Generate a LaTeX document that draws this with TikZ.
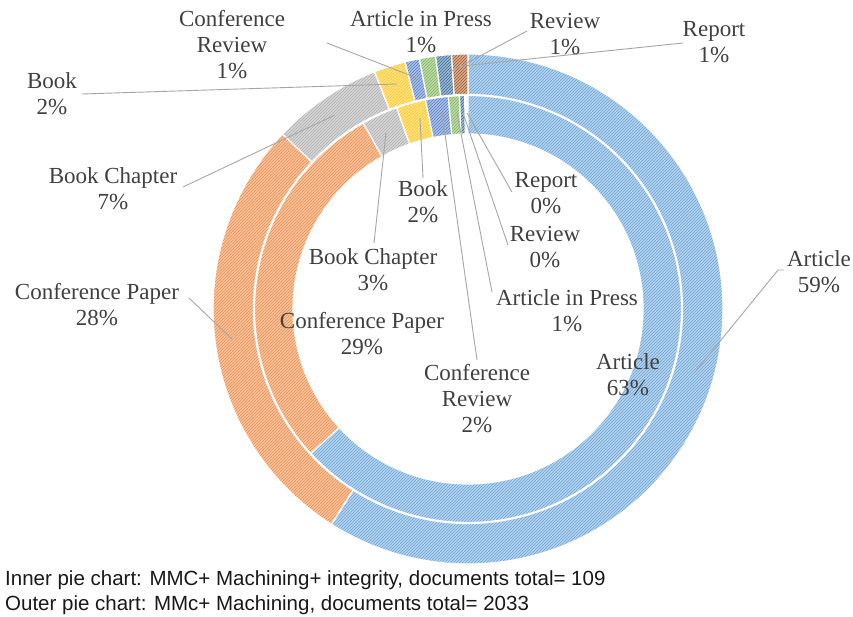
\documentclass[tikz,border=0pt]{standalone}
\usepackage{fontspec}
\setmainfont{Liberation Serif}
\newfontfamily\arialf{Liberation Sans}
\usetikzlibrary{patterns}
\definecolor{cArt}{HTML}{5B9BD5}
\definecolor{cCP}{HTML}{ED7D31}
\definecolor{cBC}{HTML}{A5A5A5}
\definecolor{cBk}{HTML}{FFC000}
\definecolor{cCR}{HTML}{4472C4}
\definecolor{cAiP}{HTML}{70AD47}
\definecolor{cRev}{HTML}{255E91}
\definecolor{cRep}{HTML}{9E480E}
\definecolor{lblc}{HTML}{404040}
\definecolor{leadc}{HTML}{A6A6A6}
\tikzset{
  slicestyle/.style={preaction={fill=#1!45}, pattern=north east lines, pattern color=#1!90, draw=white, line width=1.2pt},
  lbl/.style={text=lblc, align=center, inner sep=0pt, font=\fontsize{23}{26}\selectfont},
  lead/.style={draw=leadc, line width=0.9pt},
  note/.style={anchor=base west, inner sep=0pt, text=black!90, font=\arialf\fontsize{20.5}{25}\selectfont}
}
% r1 r2 a1 a2 colour; angles clockwise from 12 o'clock
\newcommand\annslice[5]{\path[slicestyle=#5] ({90-(#3)}:#1) -- ({90-(#3)}:#2) arc[start angle={90-(#3)}, end angle={90-(#4)}, radius=#2] -- ({90-(#4)}:#1) arc[start angle={90-(#4)}, end angle={90-(#3)}, radius=#1] -- cycle;}
\begin{document}
\begin{tikzpicture}[x=1pt,y=1pt]
\path[use as bounding box, fill=white] (0,0) rectangle (853,-617);
\begin{scope}[shift={(468,-309)}]
% outer ring
\annslice{214.5}{255}{0}{212.4}{cArt}
\annslice{214.5}{255}{212.4}{313.3}{cCP}
\annslice{214.5}{255}{313.3}{338.5}{cBC}
\annslice{214.5}{255}{338.5}{345.7}{cBk}
\annslice{214.5}{255}{345.7}{349}{cCR}
\annslice{214.5}{255}{349}{352.7}{cAiP}
\annslice{214.5}{255}{352.7}{356.3}{cRev}
\annslice{214.5}{255}{356.3}{360}{cRep}
% inner ring
\annslice{175}{213.5}{0}{227.4}{cArt}
\annslice{175}{213.5}{227.4}{330.6}{cCP}
\annslice{175}{213.5}{330.6}{340.5}{cBC}
\annslice{175}{213.5}{340.5}{348.5}{cBk}
\annslice{175}{213.5}{348.5}{354.7}{cCR}
\annslice{175}{213.5}{354.7}{357.7}{cAiP}
\annslice{175}{213.5}{357.7}{359.1}{cRev}
\end{scope}

% slice anchor points
\coordinate (pOCR) at (417,-78);
\coordinate (pOBk) at (397,-84);
\coordinate (pORev) at (448,-73);
\coordinate (pORep) at (462,-66);
\coordinate (pOBC) at (335,-115);
\coordinate (pOCP) at (233,-340);
\coordinate (pOArt) at (695,-372);
\coordinate (pIBk) at (420,-118);
\coordinate (pIBC) at (386,-133);
\coordinate (pICR) at (442,-113);
\coordinate (pIAiP) at (457,-113);
\coordinate (pIRev) at (463,-113);
\coordinate (pIRep) at (467,-113);
% label-side ends
\coordinate (eOCR) at (327,-43);
\coordinate (eOBk) at (82,-94);
\coordinate (eORev) at (527,-31);
\coordinate (eORep) at (683,-43);
\coordinate (eOBC) at (183,-187);
\coordinate (eOCP) at (189,-298);
\coordinate (eOArt) at (784,-270);
\coordinate (kOArt) at (778,-270);
\coordinate (eIBk) at (423,-178);
\coordinate (eIBC) at (374,-243);
\coordinate (eICR) at (477,-360);
\coordinate (eIAiP) at (492,-292);
\coordinate (eIRev) at (508,-245);
\coordinate (eIRep) at (512,-192);

% leader lines
\draw[lead] (eOCR) -- (pOCR);
\draw[lead] (eOBk) -- (pOBk);
\draw[lead] (eORev) -- (pORev);
\draw[lead] (eORep) -- (pORep);
\draw[lead] (eOBC) -- (pOBC);
\draw[lead] (eOCP) -- (pOCP);
\draw[lead] (eOArt) -- (kOArt) -- (pOArt);
\draw[lead] (eIBk) -- (pIBk);
\draw[lead] (eIBC) -- (pIBC);
\draw[lead] (eICR) -- (pICR);
\draw[lead] (eIAiP) -- (pIAiP);
\draw[lead] (eIRev) -- (pIRev);
\draw[lead] (eIRep) -- (pIRep);

% outer labels
\node[lbl] (oCR) at (232,-45) {Conference\\Review\\1\%};
\node[lbl] (oAiP) at (421,-32) {Article in Press\\1\%};
\node[lbl] (oRev) at (565,-34) {Review\\1\%};
\node[lbl] (oRep) at (714,-42) {Report\\1\%};
\node[lbl] (oBk) at (52,-94) {Book\\2\%};
\node[lbl] (oBC) at (113,-189) {Book Chapter\\7\%};
\node[lbl] (oCP) at (97,-305) {Conference Paper\\28\%};
\node[lbl] (oArt) at (819,-272) {Article\\59\%};
% inner labels
\node[lbl] (iRep) at (546,-193) {Report\\0\%};
\node[lbl] (iRev) at (545,-247) {Review\\0\%};
\node[lbl] (iBk) at (423,-202) {Book\\2\%};
\node[lbl] (iBC) at (373,-270) {Book Chapter\\3\%};
\node[lbl] (iAiP) at (567,-311) {Article in Press\\1\%};
\node[lbl] (iCP) at (362,-334) {Conference Paper\\29\%};
\node[lbl] (iArt) at (628,-375) {Article\\63\%};
\node[lbl] (iCR) at (477,-399) {Conference\\Review\\2\%};

% notes
\node[note] (n1) at (5,-585) {Inner pie chart: MMC+ Machining+ integrity, documents total= 109};
\node[note] (n2) at (5,-610) {Outer pie chart: MMc+ Machining, documents total= 2033};
\end{tikzpicture}
\end{document}
